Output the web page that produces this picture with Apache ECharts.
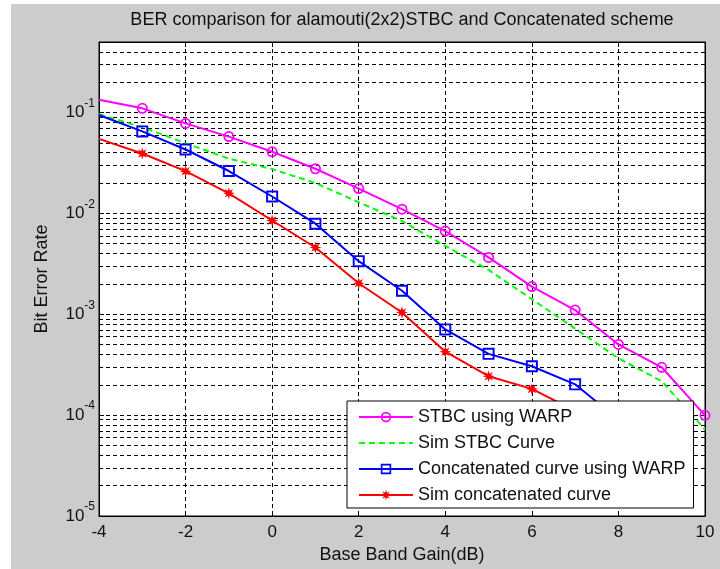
<!DOCTYPE html>
<html><head><meta charset="utf-8">
<script src="https://cdn.jsdelivr.net/npm/echarts@6/dist/echarts.min.js"></script>
<style>html,body{margin:0;padding:0;background:#fff}#c{width:720px;height:569px}</style>
</head><body><div id="c"></div>
<script>
// ---- data ----
const gains = [-4, -3, -2, -1, 0, 1, 2, 3, 4, 5, 6, 7, 8, 9, 10];
const stbcWarp = [0.134, 0.110, 0.078, 0.0577, 0.0408, 0.0277, 0.0176, 0.0110, 0.00668, 0.00366, 0.00188, 0.00110, 0.000502, 0.000298, 0.0000995];
const simStbc = [0.096, 0.0714, 0.0497, 0.0349, 0.0275, 0.0200, 0.0129, 0.0084, 0.00476, 0.00275, 0.00141, 0.00072, 0.000366, 0.000217, 0.000072];
const concatWarp = [0.0945, 0.0650, 0.0430, 0.0263, 0.0147, 0.0079, 0.00336, 0.00171, 0.000707, 0.000405, 0.000305, 0.000202, 0.000090];
const simConcat = [0.0548, 0.0392, 0.0262, 0.0158, 0.0085, 0.00459, 0.00203, 0.00104, 0.000425, 0.000243, 0.000182, 0.000110, 0.000055];
const seriesNames = ['STBC using WARP', 'Sim STBC Curve', 'Concatenated curve using WARP', 'Sim concatenated curve'];
const yTickExps = [-5, -4, -3, -2, -1];
const minorMultipliers = [2, 3, 4, 5, 6, 7, 8, 9];
const xTicks = [-4, -2, 0, 2, 4, 6, 8, 10];

// ---- styles ----
const font = "'Liberation Sans', Arial, Helvetica, sans-serif";
const txt = '#111';
const dash = [4, 3];
const ring = 'path://M0,-10A10,10,0,1,1,0,10A10,10,0,1,1,0,-10ZM0,-6.8A6.8,6.8,0,1,0,0,6.8A6.8,6.8,0,1,0,0,-6.8Z';
const sq = 'path://M-10,-10H10V10H-10ZM-6.8,-6.8V6.8H6.8V-6.8Z';
let starPts = [];
for (let k = 0; k < 16; k++) {
  const r = k % 2 === 0 ? 10 : 4.5;
  const a = -Math.PI / 2 + k * Math.PI / 8;
  starPts.push((r * Math.cos(a)).toFixed(2) + ',' + (r * Math.sin(a)).toFixed(2));
}
const star = 'path://M' + starPts.join('L') + 'Z';

const minorVals = [];
yTickExps.forEach(e => minorMultipliers.forEach(m => {
  const v = m * Math.pow(10, e);
  if (v < 0.5) minorVals.push(v);
}));

function pts(vals) {
  return vals.map((v, i) => i === 0 ? { value: [gains[i], v], symbol: 'none' } : [gains[i], v]);
}

const chart = echarts.init(document.getElementById('c'), null, { renderer: 'canvas' });
const yFormatter = v => {
  const l = Math.log10(v), e = Math.round(l);
  if (Math.abs(l - e) > 1e-6 || yTickExps.indexOf(e) < 0) return '';
  return '{b|10}{e|' + e + '}';
};
chart.setOption({
  animation: false,
  backgroundColor: '#cccccc',
  textStyle: { fontFamily: font },
  graphic: [
    { type: 'rect', shape: { x: 0, y: 0, width: 720, height: 4 }, style: { fill: '#fff' } },
    { type: 'rect', shape: { x: 0, y: 0, width: 11, height: 569 }, style: { fill: '#fff' } }
  ],
  title: {
    text: 'BER comparison for alamouti(2x2)STBC and Concatenated scheme',
    left: 402, textAlign: 'center', top: 11, padding: 0,
    textStyle: { fontSize: 18, fontWeight: 'normal', color: txt, fontFamily: font }
  },
  grid: { left: 99, right: 15, top: 42, bottom: 51, show: true, backgroundColor: '#fff', borderColor: '#000', borderWidth: 1 },
  legend: {
    orient: 'vertical', left: 347, top: 401, padding: [7, 8, 4, 11], itemGap: 8, z: 10,
    itemWidth: 54, itemHeight: 13, backgroundColor: '#fff', borderColor: '#000', borderWidth: 1,
    textStyle: { fontSize: 18, color: txt, fontFamily: font },
    data: [
      seriesNames[0],
      { name: seriesNames[1], itemStyle: { color: 'rgba(0,0,0,0)', borderColor: 'rgba(0,0,0,0)', borderWidth: 0 } },
      seriesNames[2],
      seriesNames[3]
    ]
  },
  xAxis: [{
    type: 'value', min: xTicks[0], max: xTicks[xTicks.length - 1], interval: 2,
    name: 'Base Band Gain(dB)', nameLocation: 'middle', nameGap: 30,
    nameTextStyle: { fontSize: 18, color: txt, fontFamily: font },
    axisLine: { show: true, onZero: false, lineStyle: { color: '#000' } },
    axisTick: { show: true, inside: true, length: 5, lineStyle: { color: '#000' } },
    axisLabel: { fontSize: 17, color: txt, margin: 8, fontFamily: font },
    splitLine: { show: true, lineStyle: { color: '#000', type: dash, width: 1 } }
  }, {
    type: 'value', position: 'top', min: xTicks[0], max: xTicks[xTicks.length - 1], interval: 2,
    axisLine: { show: true, onZero: false, lineStyle: { color: '#000' } },
    axisTick: { show: true, inside: true, length: 5, lineStyle: { color: '#000' } },
    axisLabel: { show: false }, splitLine: { show: false }
  }],
  yAxis: [{
    type: 'log', logBase: 10, min: 1e-5, max: 0.5,
    name: 'Bit Error Rate', nameLocation: 'middle', nameGap: 48, nameRotate: 90,
    nameTextStyle: { fontSize: 18, color: txt, fontFamily: font },
    axisLine: { show: true, onZero: false, lineStyle: { color: '#000' } },
    axisTick: { show: true, inside: true, length: 5, lineStyle: { color: '#000' } },
    axisLabel: {
      margin: 4, formatter: yFormatter, color: txt,
      rich: {
        b: { fontSize: 17, lineHeight: 30, verticalAlign: 'middle', color: txt, fontFamily: font },
        e: { fontSize: 12, lineHeight: 12, verticalAlign: 'top', color: txt, fontFamily: font }
      }
    },
    splitLine: { show: true, lineStyle: { color: '#000', type: dash, width: 1 } }
  }, {
    type: 'log', logBase: 10, min: 1e-5, max: 0.5, position: 'right',
    axisLine: { show: true, onZero: false, lineStyle: { color: '#000' } },
    axisTick: { show: true, inside: true, length: 5, lineStyle: { color: '#000' } },
    axisLabel: { show: false }, splitLine: { show: false }
  }],
  series: [
    {
      type: 'line', data: [], z: 1, silent: true,
      markLine: {
        z: 1, silent: true, symbol: 'none', label: { show: false }, animation: false, precision: 12,
        lineStyle: { color: '#000', type: dash, width: 1 },
        data: minorVals.map(v => ({ yAxis: v }))
      }
    },
    {
      name: seriesNames[0], type: 'line', data: pts(stbcWarp), symbol: ring, symbolSize: 11,
      lineStyle: { color: '#ff00ff', width: 2 }, itemStyle: { color: '#ff00ff' }
    },
    {
      name: seriesNames[1], type: 'line', data: pts(simStbc), symbol: 'none',
      lineStyle: { color: '#00ff00', width: 2, type: [6, 4] }, itemStyle: { color: '#00ff00' }
    },
    {
      name: seriesNames[2], type: 'line', data: pts(concatWarp), symbol: sq, symbolSize: 12,
      lineStyle: { color: '#0000ff', width: 2 }, itemStyle: { color: '#0000ff' }
    },
    {
      name: seriesNames[3], type: 'line', data: pts(simConcat), symbol: star, symbolSize: 12,
      lineStyle: { color: '#ff0000', width: 2 }, itemStyle: { color: '#ff0000' }
    }
  ]
});
</script>
</body></html>
